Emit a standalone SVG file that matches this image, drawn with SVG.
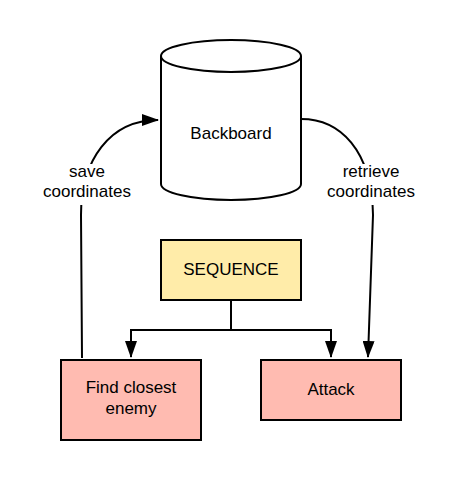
<svg xmlns="http://www.w3.org/2000/svg" width="457" height="480" viewBox="0 0 457 480">
<defs>
<style>
.shape{stroke:#000;stroke-width:2}
.conn{fill:none;stroke:#000;stroke-width:2}
text{font-family:"Liberation Sans",Arial,sans-serif;font-size:17px;fill:#000;text-anchor:middle}
</style>
<marker id="arr" markerUnits="userSpaceOnUse" markerWidth="17" markerHeight="12" viewBox="0 0 17 12" refX="16" refY="6" orient="auto">
<path d="M0,0 L17,6 L0,12 z" fill="#000"/>
</marker>
</defs>
<rect width="457" height="480" fill="#fff"/>
<g id="connectors">
<path class="conn" d="M82,358 L81,215 C81,160 110,120 158,120" marker-end="url(#arr)"/>
<path class="conn" d="M301,119 C340,119 372,150 373,215 L368,357" marker-end="url(#arr)"/>
<path class="conn" d="M231,300 V330 H131 V357" marker-end="url(#arr)"/>
<path class="conn" d="M231,330 H331 V357" marker-end="url(#arr)"/>
<g id="label-save">
<rect x="42" y="164" width="90" height="41" fill="#fff"/>
<text x="87" y="177">save</text>
<text x="87" y="197">coordinates</text>
</g>
<g id="label-retrieve">
<rect x="322" y="164" width="98" height="41" fill="#fff"/>
<text x="371" y="177">retrieve</text>
<text x="371" y="197">coordinates</text>
</g>
</g>
<g id="backboard">
<path class="shape" fill="#fff" d="M161,56 V184 A70,16 0 0 0 301,184 V56 A70,16 0 0 0 161,56 Z"/>
<path class="shape" fill="none" d="M161,56 A70,16 0 0 0 301,56"/>
<text x="231" y="139">Backboard</text>
</g>
<g id="sequence">
<rect class="shape" x="161" y="240" width="140" height="60" fill="#ffeca9"/>
<text x="231" y="275">SEQUENCE</text>
</g>
<g id="find-closest-enemy">
<rect class="shape" x="61" y="360" width="140" height="80" fill="#ffbbb1"/>
<text x="131" y="393">Find closest</text>
<text x="131" y="414">enemy</text>
</g>
<g id="attack">
<rect class="shape" x="261" y="360" width="140" height="60" fill="#ffbbb1"/>
<text x="331" y="395">Attack</text>
</g>
</svg>
